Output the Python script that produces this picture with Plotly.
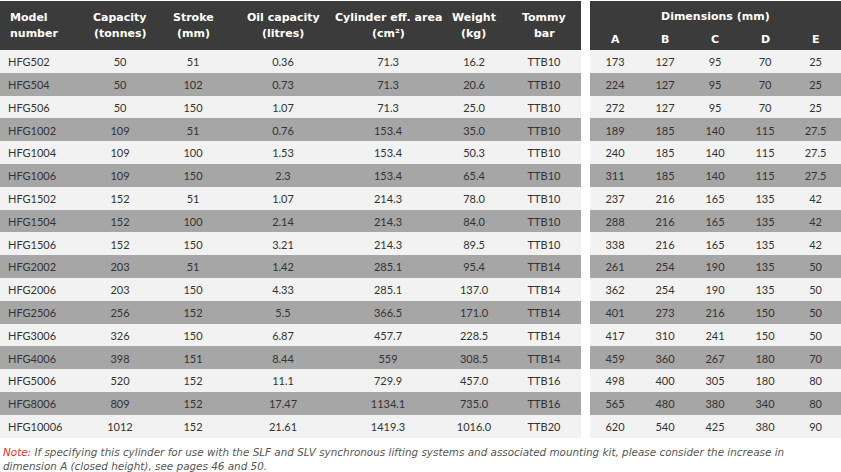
import plotly.graph_objects as go

models = ["HFG502", "HFG504", "HFG506", "HFG1002", "HFG1004", "HFG1006", "HFG1502", "HFG1504",
          "HFG1506", "HFG2002", "HFG2006", "HFG2506", "HFG3006", "HFG4006", "HFG5006", "HFG8006", "HFG10006"]
capacity = ["50", "50", "50", "109", "109", "109", "152", "152", "152", "203", "203", "256", "326", "398", "520", "809", "1012"]
stroke = ["51", "102", "150", "51", "100", "150", "51", "100", "150", "51", "150", "152", "150", "151", "152", "152", "152"]
oil = ["0.36", "0.73", "1.07", "0.76", "1.53", "2.3", "1.07", "2.14", "3.21", "1.42", "4.33", "5.5", "6.87", "8.44", "11.1", "17.47", "21.61"]
area = ["71.3", "71.3", "71.3", "153.4", "153.4", "153.4", "214.3", "214.3", "214.3", "285.1", "285.1", "366.5", "457.7", "559", "729.9", "1134.1", "1419.3"]
weight = ["16.2", "20.6", "25.0", "35.0", "50.3", "65.4", "78.0", "84.0", "89.5", "95.4", "137.0", "171.0", "228.5", "308.5", "457.0", "735.0", "1016.0"]
tommy = ["TTB10"] * 9 + ["TTB14"] * 5 + ["TTB16", "TTB16", "TTB20"]
dim_a = ["173", "224", "272", "189", "240", "311", "237", "288", "338", "261", "362", "401", "417", "459", "498", "565", "620"]
dim_b = ["127", "127", "127", "185", "185", "185", "216", "216", "216", "254", "254", "273", "310", "360", "400", "480", "540"]
dim_c = ["95", "95", "95", "140", "140", "140", "165", "165", "165", "190", "190", "216", "241", "267", "305", "380", "425"]
dim_d = ["70", "70", "70", "115", "115", "115", "135", "135", "135", "135", "135", "150", "150", "180", "180", "340", "380"]
dim_e = ["25", "25", "25", "27.5", "27.5", "27.5", "42", "42", "42", "50", "50", "50", "50", "70", "80", "80", "90"]

left_headers = [("Model", "number"), ("Capacity", "(tonnes)"), ("Stroke", "(mm)"), ("Oil capacity", "(litres)"),
                ("Cylinder eff. area", "(cm²)"), ("Weight", "(kg)"), ("Tommy", "bar")]
dim_title = "Dimensions (mm)"
dim_headers = ["A", "B", "C", "D", "E"]
note_lead = "Note:"
note_text = ("If specifying this cylinder for use with the SLF and SLV synchronous lifting systems and "
             "associated mounting kit, please consider the increase in<br>dimension A (closed height), "
             "see pages 46 and 50.")

W, H = 841, 472
FONT = "Lato"
HFONT = "DejaVu Sans"
HEAD_BG = "#3b3b3b"
LIGHT = "#f2f2f2"
GRAY = "#a6a6a7"
TXT = "#333333"

n = len(models)
row_fill = [LIGHT if i % 2 == 0 else GRAY for i in range(n)]

left_w = [85, 70, 76, 104, 106, 66, 74]
right_w = [50, 50, 50, 50, 51]
left_x0, left_x1 = 0, 581
right_x0, right_x1 = 590, 841

header_h = 49
row_h = 22.8
top = 1

fig = go.Figure()
fig.add_trace(go.Table(
    domain=dict(x=[left_x0 / W, left_x1 / W], y=[0.04, 1 - top / H]),
    columnwidth=left_w,
    header=dict(values=[""] * len(left_headers),
                fill_color=HEAD_BG, line=dict(width=0, color=HEAD_BG),
                font=dict(family=HFONT, size=11, color="white"), height=header_h),
    cells=dict(values=[models, capacity, stroke, oil, area, weight, tommy],
               fill_color=[row_fill] * 7, line=dict(width=0, color=LIGHT),
               align=["left"] + ["center"] * 6,
               font=dict(family=FONT, size=11, color=TXT), height=row_h),
))
fig.add_trace(go.Table(
    domain=dict(x=[right_x0 / W, right_x1 / W], y=[0.04, 1 - top / H]),
    columnwidth=right_w,
    header=dict(values=[""] * len(dim_headers),
                fill_color=HEAD_BG, line=dict(width=0, color=HEAD_BG),
                font=dict(family=HFONT, size=11, color="white"), height=header_h),
    cells=dict(values=[dim_a, dim_b, dim_c, dim_d, dim_e],
               fill_color=[row_fill] * 5, line=dict(width=0, color=LIGHT),
               align="center",
               font=dict(family=FONT, size=11, color=TXT), height=row_h),
))


def head_label(text, x_px, y_px, anchor="center"):
    fig.add_annotation(text=f"<b>{text}</b>", x=x_px / W, y=1 - y_px / H,
                       xref="paper", yref="paper", xanchor=anchor, yanchor="middle", showarrow=False,
                       font=dict(family=HFONT, size=11, color="white"))


# left table header labels (two lines each)
scale = (left_x1 - left_x0) / sum(left_w)
acc = left_x0
for i, ((l1, l2), w) in enumerate(zip(left_headers, left_w)):
    if i == 0:
        cx, anchor = acc + 8, "left"
    else:
        cx, anchor = acc + w * scale / 2, "center"
    acc += w * scale
    head_label(l1, cx, 17, anchor)
    head_label(l2, cx, 33, anchor)

# spanning header and sub-column labels of the dimensions table
head_label(dim_title, (right_x0 + right_x1) / 2, 16)
scale = (right_x1 - right_x0) / sum(right_w)
acc = right_x0
for lab, w in zip(dim_headers, right_w):
    cx = acc + w * scale / 2
    acc += w * scale
    head_label(lab, cx, 39)

fig.add_annotation(
    text=f"<i><span style='color:#e8312a'>{note_lead}</span> {note_text}</i>",
    x=1 / W, y=1 - 444 / H, xref="paper", yref="paper", xanchor="left", yanchor="top",
    align="left", showarrow=False, font=dict(family=HFONT, size=10.4, color="#555555"))

fig.update_layout(width=W, height=H, margin=dict(l=0, r=0, t=0, b=0),
                  paper_bgcolor="white", plot_bgcolor="white")
fig.write_html("out.html", config={"displayModeBar": False},
               post_script="document.body.style.margin='0px';")
